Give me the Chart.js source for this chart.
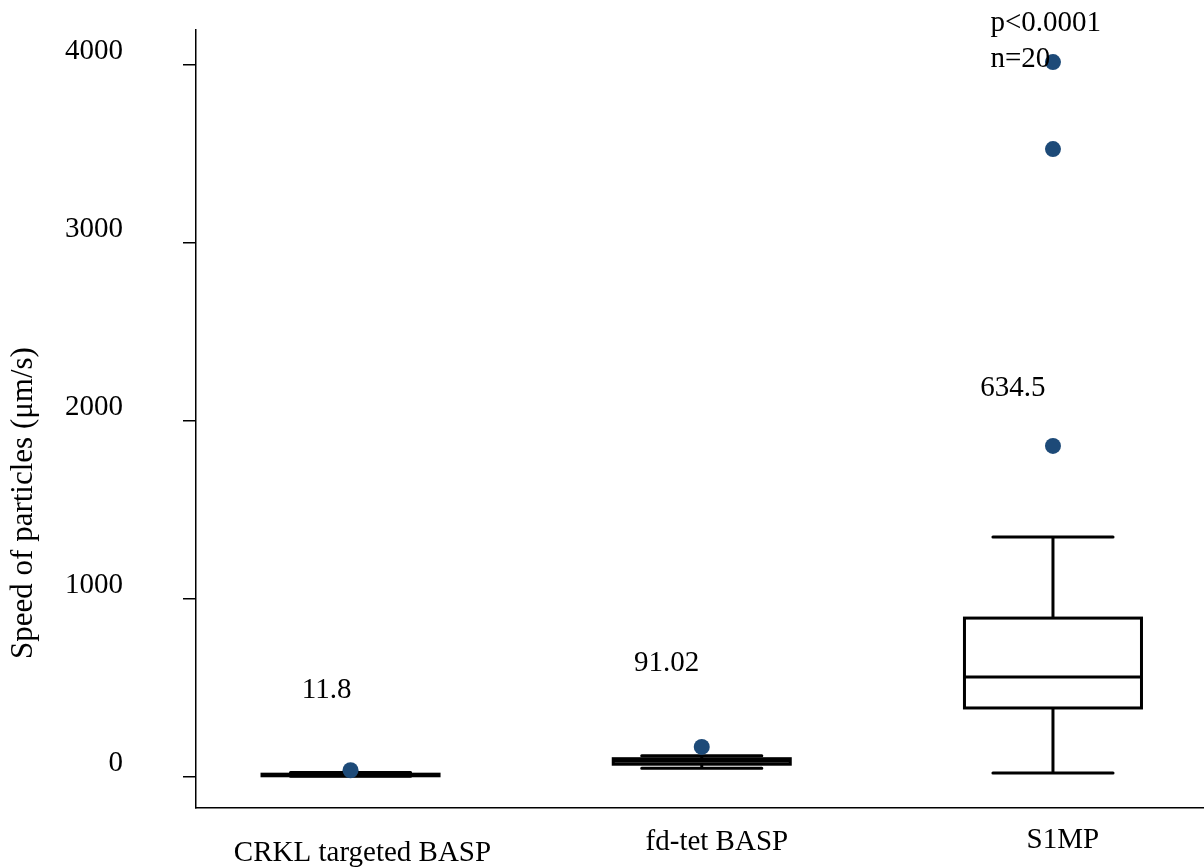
<!DOCTYPE html>
<html><head><meta charset="utf-8">
<script src="https://cdn.jsdelivr.net/npm/chart.js@4/dist/chart.umd.min.js"></script>
<style>html,body{margin:0;padding:0;background:#fff}#wrap{width:1204px;height:867px}</style>
</head><body><div id="wrap"><canvas id="c" width="1204" height="867"></canvas></div>
<script>
// ---- data ----
const categories = ['CRKL targeted BASP', 'fd-tet BASP', 'S1MP'];
const whiskerLow = [4, 50, 22];
const q1 = [7, 72, 388];
const median = [11, 88, 562];
const q3 = [16, 103, 893];
const whiskerHigh = [25, 120, 1348];
const outlierCategory = [0, 1, 2, 2, 2];
const outlierValues = [38, 169, 1860, 3528, 4017];
const meanLabels = ['11.8', '91.02', '634.5'];
const yTicks = [0, 1000, 2000, 3000, 4000];
const statsText = ['p<0.0001', 'n=20'];
const yTitle = 'Speed of particles (\u03bcm/s)';

// ---- styling ----
const FAMILY = '"Liberation Serif", "Times New Roman", serif';
const FONT = '29px ' + FAMILY;
const TITLE_FONT = '31px ' + FAMILY;
const DOT = '#1d4a78';

const boxPlugin = {
  id: 'boxes',
  beforeDatasetsDraw(chart) {
    const {ctx, scales: {x, y}} = chart;
    const boxHalf = 0.252, capHalf = 0.171;
    ctx.save();
    ctx.strokeStyle = '#000';
    ctx.lineWidth = 3;
    categories.forEach((c, i) => {
      const cx = x.getPixelForValue(i);
      const bl = x.getPixelForValue(i - boxHalf), br = x.getPixelForValue(i + boxHalf);
      const cl = x.getPixelForValue(i - capHalf), cr = x.getPixelForValue(i + capHalf);
      const yq1 = y.getPixelForValue(q1[i]), yq3 = y.getPixelForValue(q3[i]);
      const ym = y.getPixelForValue(median[i]);
      const ylo = y.getPixelForValue(whiskerLow[i]), yhi = y.getPixelForValue(whiskerHigh[i]);
      ctx.lineCap = 'butt';
      ctx.beginPath();
      ctx.moveTo(cx, yq3); ctx.lineTo(cx, yhi);
      ctx.moveTo(cx, yq1); ctx.lineTo(cx, ylo);
      ctx.stroke();
      ctx.lineCap = 'round';
      ctx.beginPath();
      ctx.moveTo(cl, yhi); ctx.lineTo(cr, yhi);
      ctx.moveTo(cl, ylo); ctx.lineTo(cr, ylo);
      ctx.stroke();
      ctx.fillStyle = '#fff';
      ctx.lineJoin = 'miter';
      ctx.fillRect(bl, yq3, br - bl, yq1 - yq3);
      ctx.strokeRect(bl, yq3, br - bl, yq1 - yq3);
      ctx.lineCap = 'butt';
      ctx.beginPath();
      ctx.moveTo(bl, ym); ctx.lineTo(br, ym);
      ctx.stroke();
    });
    ctx.restore();
  },
  afterDraw(chart, args, opts) {
    const {ctx, chartArea, scales: {x, y}} = chart;
    ctx.save();
    ctx.fillStyle = '#000';
    ctx.font = FONT;
    ctx.textBaseline = 'middle';
    ctx.textAlign = 'center';
    categories.forEach((c, i) => {
      ctx.fillText(c, x.getPixelForValue(i + opts.catDx[i]), chartArea.bottom + opts.catOffset[i]);
    });
    meanLabels.forEach((t, i) => {
      ctx.fillText(t, x.getPixelForValue(i + opts.meanDx[i]), y.getPixelForValue(opts.meanY[i]));
    });
    ctx.textAlign = 'left';
    statsText.forEach((t, i) => {
      ctx.fillText(t, x.getPixelForValue(opts.statsX), y.getPixelForValue(opts.statsY[i]));
    });
    ctx.font = TITLE_FONT;
    ctx.translate(24, 503);
    ctx.rotate(-Math.PI / 2);
    ctx.textAlign = 'center';
    ctx.fillText(yTitle, 0, 0);
    ctx.restore();
  }
};

new Chart(document.getElementById('c'), {
  type: 'scatter',
  data: {
    datasets: [{
      data: outlierValues.map((v, i) => ({x: outlierCategory[i], y: v})),
      backgroundColor: DOT,
      borderWidth: 0,
      pointRadius: 8,
      pointHoverRadius: 8
    }]
  },
  plugins: [boxPlugin],
  options: {
    responsive: false,
    animation: false,
    devicePixelRatio: 1,
    layout: {autoPadding: false, padding: {top: 30, right: 0, left: 0, bottom: 0}},
    plugins: {
      legend: {display: false},
      tooltip: {enabled: false},
      boxes: {
        catDx: [0.034, 0.043, 0.028],
        catOffset: [45, 34, 32],
        meanDx: [-0.068, -0.1, -0.114],
        meanY: [489, 640, 2185],
        statsX: 1.822,
        statsY: [4235, 4030]
      }
    },
    scales: {
      x: {
        type: 'linear',
        min: -0.44,
        max: 2.43,
        ticks: {display: false},
        grid: {display: false, drawTicks: false},
        border: {display: true, color: '#000', width: 1.5},
        afterFit: s => { s.height = 59; s.paddingLeft = 0; s.paddingRight = 0; }
      },
      y: {
        min: -174,
        max: 4197,
        afterBuildTicks: s => { s.ticks = yTicks.map(v => ({value: v})); },
        ticks: {
          color: '#000',
          font: {family: FAMILY, size: 29},
          padding: 60,
          labelOffset: -14,
          callback: v => String(v)
        },
        grid: {drawOnChartArea: false, drawTicks: true, tickLength: 13, color: '#000', lineWidth: 1.5},
        border: {display: true, color: '#000', width: 1.5},
        afterFit: s => { s.width = 196; s.paddingTop = 0; s.paddingBottom = 0; }
      }
    }
  }
});
</script>
</body></html>
